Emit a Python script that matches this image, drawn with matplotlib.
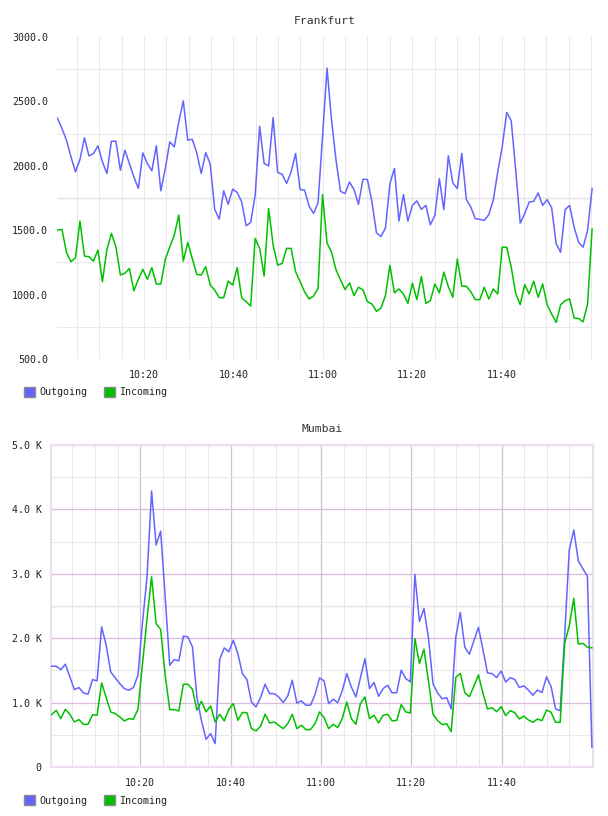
import numpy as np
import matplotlib
matplotlib.use('Agg')
import matplotlib.pyplot as plt
from matplotlib.patches import Patch
from matplotlib.ticker import FixedLocator

# ---------------- data ----------------
fra_outgoing = [2370, 2289, 2199, 2069, 1953, 2049, 2217, 2077, 2095, 2155,
                2031, 1940, 2191, 2191, 1966, 2121, 2018, 1914, 1824, 2100,
                2018, 1961, 2155, 1806, 1979, 2186, 2147, 2341, 2504, 2199,
                2206, 2100, 1940, 2103, 2013, 1661, 1586, 1806, 1702, 1819,
                1793, 1720, 1534, 1560, 1772, 2307, 2018, 2000, 2374, 1948,
                1935, 1863, 1953, 2095, 1816, 1811, 1687, 1630, 1712, 2230,
                2758, 2355, 2044, 1802, 1784, 1875, 1815, 1701, 1896, 1893,
                1719, 1480, 1451, 1516, 1862, 1979, 1571, 1776, 1571, 1693,
                1727, 1662, 1693, 1542, 1615, 1901, 1659, 2077, 1867, 1823,
                2096, 1740, 1680, 1589, 1584, 1576, 1620, 1732, 1953, 2148,
                2415, 2350, 1966, 1555, 1628, 1719, 1724, 1789, 1693, 1737,
                1675, 1394, 1329, 1659, 1693, 1524, 1407, 1368, 1498, 1823]
fra_incoming = [1501, 1506, 1327, 1255, 1286, 1571, 1299, 1294, 1260, 1346,
                1100, 1351, 1475, 1371, 1152, 1165, 1203, 1030, 1118, 1196,
                1118, 1209, 1082, 1082, 1273, 1371, 1462, 1617, 1260, 1405,
                1281, 1157, 1152, 1216, 1074, 1035, 976, 976, 1105, 1074,
                1209, 976, 945, 911, 1436, 1359, 1144, 1669, 1384, 1229,
                1242, 1359, 1359, 1178, 1100, 1022, 966, 989, 1048, 1776,
                1400, 1329, 1192, 1114, 1039, 1091, 992, 1057, 1036, 945,
                927, 870, 896, 992, 1226, 1013, 1044, 1005, 932, 1088,
                961, 1140, 932, 953, 1083, 1013, 1174, 1062, 979, 1277,
                1065, 1065, 1023, 961, 961, 1057, 966, 1044, 1005, 1368,
                1368, 1213, 1010, 922, 1078, 1005, 1104, 979, 1083, 922,
                849, 784, 922, 953, 966, 818, 815, 789, 927, 1511]

mum_outgoing_k = [1.565, 1.565, 1.513, 1.596, 1.399, 1.202, 1.233, 1.150, 1.130, 1.358,
                  1.337, 2.176, 1.891, 1.477, 1.383, 1.295, 1.218, 1.192, 1.233, 1.425,
                  2.240, 2.953, 4.285, 3.446, 3.663, 2.642, 1.580, 1.668, 1.648, 2.031,
                  2.021, 1.865, 1.078, 0.715, 0.430, 0.518, 0.363, 1.668, 1.850, 1.788,
                  1.969, 1.762, 1.451, 1.358, 1.010, 0.933, 1.078, 1.285, 1.140, 1.140,
                  1.088, 1.000, 1.104, 1.347, 0.995, 1.026, 0.959, 0.959, 1.124, 1.383,
                  1.337, 0.984, 1.052, 1.000, 1.181, 1.451, 1.244, 1.088, 1.383, 1.684,
                  1.218, 1.311, 1.098, 1.218, 1.269, 1.150, 1.155, 1.503, 1.373, 1.321,
                  2.990, 2.260, 2.460, 2.000, 1.290, 1.150, 1.060, 1.078, 0.900, 2.010,
                  2.400, 1.860, 1.750, 1.960, 2.170, 1.820, 1.460, 1.450, 1.390, 1.490,
                  1.320, 1.385, 1.360, 1.235, 1.260, 1.195, 1.115, 1.195, 1.157, 1.400,
                  1.250, 0.900, 0.875, 2.050, 3.370, 3.680, 3.200, 3.080, 2.960, 0.305]
mum_incoming_k = [0.813, 0.881, 0.751, 0.896, 0.819, 0.699, 0.736, 0.663, 0.663, 0.813,
                  0.803, 1.306, 1.078, 0.855, 0.829, 0.777, 0.715, 0.751, 0.741, 0.896,
                  1.600, 2.300, 2.953, 2.228, 2.135, 1.425, 0.891, 0.891, 0.870, 1.285,
                  1.285, 1.207, 0.881, 1.021, 0.855, 0.948, 0.699, 0.819, 0.715, 0.891,
                  0.984, 0.725, 0.845, 0.845, 0.596, 0.560, 0.632, 0.819, 0.684, 0.699,
                  0.648, 0.596, 0.674, 0.819, 0.596, 0.648, 0.580, 0.580, 0.674, 0.855,
                  0.767, 0.596, 0.663, 0.611, 0.751, 1.010, 0.751, 0.663, 0.984, 1.088,
                  0.751, 0.803, 0.684, 0.803, 0.819, 0.715, 0.725, 0.969, 0.855, 0.839,
                  1.995, 1.606, 1.829, 1.330, 0.820, 0.720, 0.660, 0.670, 0.550, 1.390,
                  1.454, 1.154, 1.092, 1.258, 1.428, 1.144, 0.900, 0.920, 0.860, 0.937,
                  0.797, 0.875, 0.844, 0.745, 0.790, 0.730, 0.694, 0.745, 0.720, 0.885,
                  0.849, 0.694, 0.694, 1.920, 2.190, 2.620, 1.910, 1.920, 1.860, 1.850]

time_tick_minutes = [20, 40, 60, 80, 100]        # minutes after 10:00
time_tick_labels = ['10:20', '10:40', '11:00', '11:20', '11:40']
fra_ytick_values = [500, 1000, 1500, 2000, 2500, 3000]
fra_ytick_labels = ['500.0', '1000.0', '1500.0', '2000.0', '2500.0', '3000.0']
mum_ytick_values = [0, 1, 2, 3, 4, 5]
mum_ytick_labels = ['0', '1.0 K', '2.0 K', '3.0 K', '4.0 K', '5.0 K']
series_names = ['Outgoing', 'Incoming']

# sampling: one sample roughly every minute
fra_first_min = 0.65
mum_first_min = 0.40
sample_step_min = 1.005

# minor grid positions: every 5 minutes, except the labelled 20-minute ones
minor_minutes = [m for m in range(5, 125, 5) if m not in time_tick_minutes]
mum_minor_k = [0.5, 1.5, 2.5, 3.5, 4.5]
fra_minor_y = [750, 1250, 1750, 2250, 2750]

# ---------------- style ----------------
W, H = 608, 816
C_OUT = '#6464ff'
C_IN = '#00c000'
plt.rcParams['font.family'] = ['DejaVu Sans Mono']
TXT = '#222222'
GRID = '#e8e8e8'
GRID_LW = 0.75
MAJOR_PURPLE = '#d8bcdc'

fig = plt.figure(figsize=(W / 100, H / 100), dpi=100)
fig.patch.set_facecolor('white')


def px_axes(left, top, right, bottom):
    return fig.add_axes([left / W, 1 - bottom / H, (right - left) / W, (bottom - top) / H])


ax1 = px_axes(57, 37, 593, 359)
ax2 = px_axes(50.7, 445, 593, 767)

# ---------- Frankfurt ----------
t_f = fra_first_min + sample_step_min * np.arange(len(fra_outgoing))
ax1.plot(t_f, fra_outgoing, color=C_OUT, lw=1.1, zorder=3)
ax1.plot(t_f, fra_incoming, color=C_IN, lw=1.1, zorder=3)
ax1.set_xlim(0.54, 120.45)
ax1.set_ylim(500, 3000)
for s in ax1.spines.values():
    s.set_visible(False)
ax1.xaxis.set_major_locator(FixedLocator(time_tick_minutes))
ax1.set_xticklabels(time_tick_labels)
ax1.xaxis.set_minor_locator(FixedLocator(minor_minutes))
ax1.yaxis.set_major_locator(FixedLocator(fra_ytick_values))
ax1.set_yticklabels(fra_ytick_labels)
ax1.yaxis.set_minor_locator(FixedLocator(fra_minor_y))
ax1.grid(which='both', axis='x', color=GRID, lw=GRID_LW)
ax1.grid(which='minor', axis='y', color=GRID, lw=GRID_LW)
ax1.axhline(1750, color='#f3f3f3', lw=1.8, zorder=0.5)
ax1.tick_params(which='both', length=0, labelsize=7.2, colors=TXT)
ax1.tick_params(axis='y', pad=6.5)
ax1.tick_params(axis='x', pad=8)
ax1.set_title('Frankfurt', fontsize=8.2, color='#333333', pad=9.5)
ax1.set_axisbelow(True)

# ---------- Mumbai ----------
t_m = mum_first_min + sample_step_min * np.arange(len(mum_outgoing_k))
ax2.plot(t_m, mum_outgoing_k, color=C_OUT, lw=1.1, zorder=3)
ax2.plot(t_m, mum_incoming_k, color=C_IN, lw=1.1, zorder=3)
ax2.set_xlim(0.18, 120.23)
ax2.set_ylim(0, 5)
for s in ax2.spines.values():
    s.set_color('#eedff0')
    s.set_linewidth(1.6)
ax2.xaxis.set_major_locator(FixedLocator(time_tick_minutes))
ax2.set_xticklabels(time_tick_labels)
ax2.xaxis.set_minor_locator(FixedLocator(minor_minutes))
ax2.yaxis.set_major_locator(FixedLocator(mum_ytick_values))
ax2.set_yticklabels(mum_ytick_labels)
ax2.yaxis.set_minor_locator(FixedLocator(mum_minor_k))
ax2.grid(which='minor', axis='both', color=GRID, lw=GRID_LW)
ax2.axhline(2.5, color='#f3f3f3', lw=1.8, zorder=0.5)
ax2.grid(which='major', axis='both', color=MAJOR_PURPLE, lw=0.9)
ax2.tick_params(which='both', length=0, labelsize=7.2, colors=TXT)
ax2.tick_params(axis='y', pad=6.5)
ax2.tick_params(axis='x', pad=8)
ax2.set_title('Mumbai', fontsize=8.2, color='#333333', pad=9.0)
ax2.set_axisbelow(True)

# ---------- legends ----------
handles = [Patch(facecolor=C_OUT, edgecolor='#8a8a8a', lw=1.0),
           Patch(facecolor=C_IN, edgecolor='#8a8a8a', lw=1.0)]
for ycen in (392, 800.5):
    fig.legend(handles, series_names, loc='center left',
               bbox_to_anchor=(24 / W, 1 - ycen / H), ncol=2, frameon=False,
               fontsize=7.2, handlelength=1.13, handleheight=1.13,
               handletextpad=0.42, columnspacing=1.6, borderpad=0,
               borderaxespad=0, labelcolor=TXT)

fig.savefig('out.png', dpi=100, facecolor='white')
